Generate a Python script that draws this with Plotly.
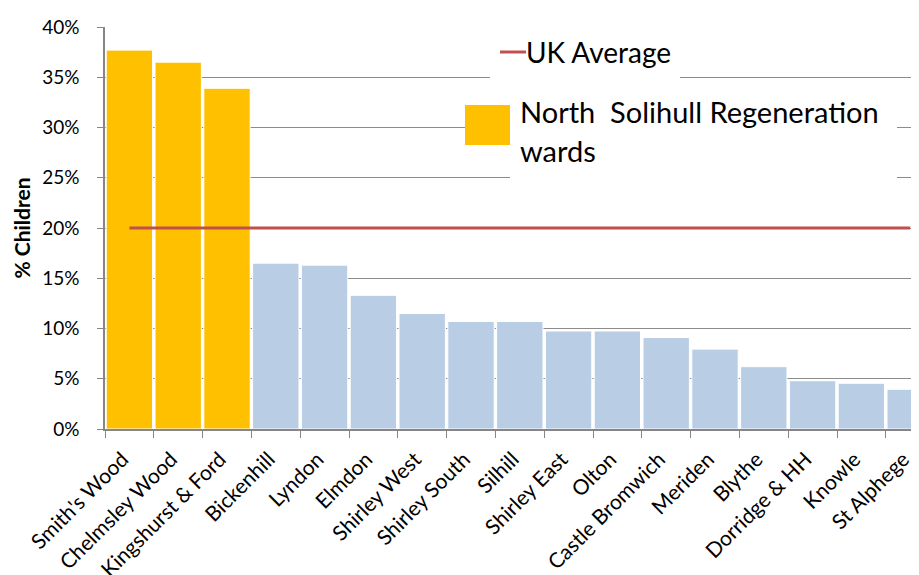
import plotly.graph_objects as go

wards = ["Smith's Wood", "Chelmsley Wood", "Kingshurst & Ford", "Bickenhill", "Lyndon",
         "Elmdon", "Shirley West", "Shirley South", "Silhill", "Shirley East", "Olton",
         "Castle Bromwich", "Meriden", "Blythe", "Dorridge & HH", "Knowle", "St Alphege"]
regen_values = [37.7, 36.5, 33.9, None, None, None, None, None, None, None, None,
                None, None, None, None, None, None]
other_values = [None, None, None, 16.5, 16.3, 13.3, 11.5, 10.7, 10.7, 9.75, 9.75,
                9.1, 7.95, 6.2, 4.8, 4.55, 3.95]
uk_average = [20] * len(wards)
y_ticks = [0, 5, 10, 15, 20, 25, 30, 35, 40]
y_tick_labels = [f"{v}%" for v in y_ticks]
legend_labels = ["UK Average", "North  Solihull Regeneration", "wards"]

FONT = "Lato, Open Sans, sans-serif"
RED = "#C0504D"
ORANGE = "#FFC000"
BLUE = "#B9CDE5"

OFF = 8  # page body margin offset
W, H = 919 - 2 * OFF, 575 - OFF
# plot area in screen pixels (right edge limited by the visible area)
SL, SR, ST, SB = 105, 911, 27, 429
L, R, T, B = SL - OFF, SR - OFF, ST - OFF, SB - OFF
CAT_W = 48.8  # category width in the reference, pixels
x_end = (SR - SL) / CAT_W - 0.5

def px(xs):
    return (xs - SL) / (SR - SL)
def py(ys):
    return (SB - ys) / (SB - ST)

fig = go.Figure()
fig.add_trace(go.Bar(x=wards, y=other_values, marker=dict(color=BLUE, line=dict(color="white", width=1)),
                     showlegend=False, name="Other wards"))
fig.add_trace(go.Bar(x=wards, y=regen_values, marker=dict(color=ORANGE, line=dict(color="white", width=1)),
                     showlegend=False, name="North Solihull Regeneration wards"))
fig.add_trace(go.Scatter(x=wards, y=uk_average, mode="lines", line=dict(color=RED, width=3),
                         showlegend=False, name="UK Average", cliponaxis=True))

shapes = [
    dict(type="rect", xref="paper", yref="paper", x0=px(490), x1=px(680), y0=py(100), y1=py(33),
         fillcolor="white", line=dict(width=0), layer="above"),
    dict(type="rect", xref="paper", yref="paper", x0=px(465), x1=px(897), y0=py(160), y1=py(100),
         fillcolor="white", line=dict(width=0), layer="above"),
    dict(type="rect", xref="paper", yref="paper", x0=px(510), x1=px(897), y0=py(183), y1=py(160),
         fillcolor="white", line=dict(width=0), layer="above"),
    dict(type="line", xref="paper", yref="paper", x0=px(500), x1=px(526), y0=py(52), y1=py(52),
         line=dict(color=RED, width=3), layer="above"),
    dict(type="rect", xref="paper", yref="paper", x0=px(465), x1=px(510), y0=py(145), y1=py(105),
         fillcolor=ORANGE, line=dict(width=0), layer="above"),
]
annotations = [
    dict(text=legend_labels[0], xref="paper", yref="paper", x=px(524), y=py(52), xanchor="left",
         yanchor="middle", showarrow=False, font=dict(size=28, color="#000000", family=FONT)),
    dict(text=legend_labels[1], xref="paper", yref="paper", x=px(518), y=py(112), xanchor="left",
         yanchor="middle", showarrow=False, font=dict(size=29, color="#000000", family=FONT)),
    dict(text=legend_labels[2], xref="paper", yref="paper", x=px(518), y=py(150), xanchor="left",
         yanchor="middle", showarrow=False, font=dict(size=29, color="#000000", family=FONT)),
]

fig.update_layout(
    width=W, height=H,
    margin=dict(l=L, r=W - R, t=T, b=H - B, autoexpand=False),
    paper_bgcolor="white", plot_bgcolor="white",
    barmode="relative", bargap=0.05,
    font=dict(family=FONT, color="#000000"),
    showlegend=False,
    shapes=shapes, annotations=annotations,
    xaxis=dict(type="category", range=[-0.5, x_end], tickson="boundaries", ticks="outside",
               ticklen=7, tickcolor="#868686", showline=True, linecolor="#868686", linewidth=1.5,
               showgrid=False, tickangle=-45, automargin=False, ticklabelstandoff=8,
               ticklabelshift=-7, tickfont=dict(size=21, color="#000000")),
    yaxis=dict(range=[0, 40], tickvals=y_ticks, ticktext=y_tick_labels, ticks="outside",
               ticklen=6, tickcolor="#868686", showline=True, linecolor="#868686", linewidth=1.5,
               showgrid=True, gridcolor="#8C8C8C", gridwidth=1.2, automargin=False,
               ticklabelstandoff=14, tickfont=dict(size=19, color="#000000"),
               title=dict(text="<b>% Children</b>", font=dict(size=21, color="#000000"), standoff=6)),
)

fig.write_html("out.html")
